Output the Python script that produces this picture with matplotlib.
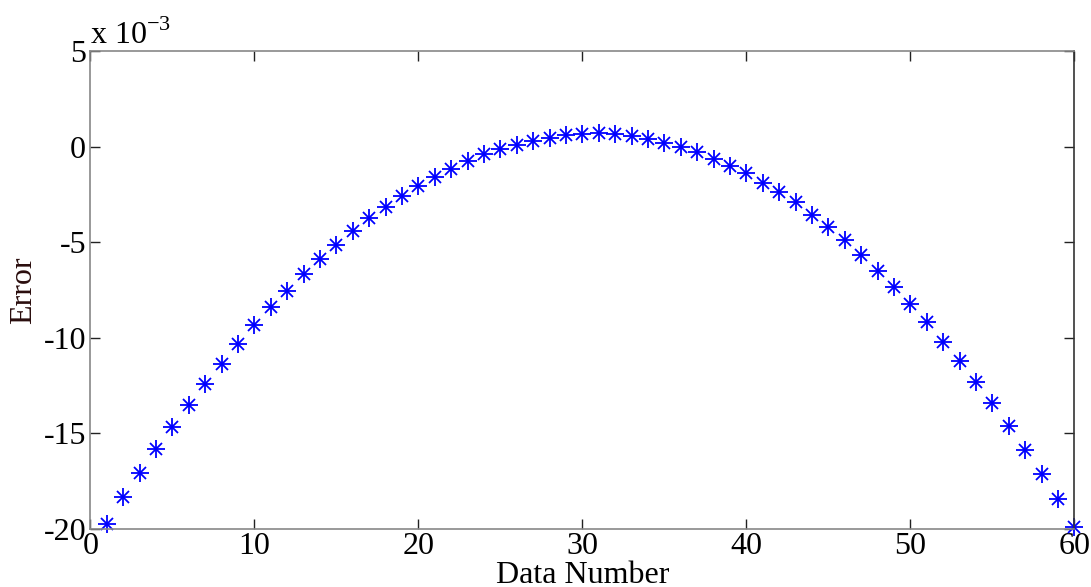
import numpy as np
import matplotlib
matplotlib.use("Agg")
import matplotlib.pyplot as plt

plt.rcParams['font.family'] = ['Liberation Serif', 'DejaVu Serif']
plt.rcParams['mathtext.fontset'] = 'custom'
plt.rcParams['mathtext.rm'] = 'Liberation Serif'
plt.rcParams['axes.unicode_minus'] = False

# data number and error (in units of 1e-3)
data_number = np.arange(1, 61)
error = [-19.72, -18.34, -17.05, -15.83, -14.65, -13.51, -12.42, -11.37, -10.34, -9.33,
         -8.39, -7.54, -6.66, -5.88, -5.13, -4.41, -3.75, -3.14, -2.58, -2.06,
         -1.61, -1.17, -0.75, -0.40, -0.14, 0.08, 0.29, 0.47, 0.61, 0.68,
         0.70, 0.64, 0.55, 0.40, 0.20, 0.00, -0.30, -0.64, -1.02, -1.40,
         -1.89, -2.39, -2.91, -3.58, -4.19, -4.88, -5.67, -6.49, -7.35, -8.24,
         -9.19, -10.20, -11.21, -12.30, -13.43, -14.61, -15.87, -17.14, -18.45, -19.91]

x_ticks = [0, 10, 20, 30, 40, 50, 60]
y_ticks = [-20, -15, -10, -5, 0, 5]

fs = 23

fig = plt.figure(figsize=(10.91, 5.87), dpi=100)
ax = fig.add_axes([0.0828, 0.0988, 0.9019, 0.8143])

# matlab style asterisk = plus + cross
ax.plot(data_number, error, linestyle='none', marker='+', markersize=13,
        markeredgewidth=1.3, color='#0000ff', clip_on=False)
ax.plot(data_number, error, linestyle='none', marker='x', markersize=9,
        markeredgewidth=1.3, color='#0000ff', clip_on=False)

ax.set_xlim(0, 60)
ax.set_ylim(-20, 5)
ax.set_xticks(x_ticks)
ax.set_yticks(y_ticks)
ax.tick_params(direction='in', length=7, width=1, top=True, right=True,
               labelsize=fs, colors='#222222', labelcolor='black')
ax.tick_params(axis='y', pad=3)
ax.tick_params(axis='x', pad=2)

for s in ['left', 'bottom', 'top']:
    ax.spines[s].set_color('#888888')
ax.spines['right'].set_color('#333333')
for s in ax.spines.values():
    s.set_linewidth(1.2)

ax.set_xlabel('Data Number', fontsize=fs, labelpad=0)
ax.set_ylabel('Error', fontsize=fs, color='#2a0d0d', labelpad=4)

ax.text(0.0, 1.0, r'x 10$^{\mathregular{-3}}$', transform=ax.transAxes,
        fontsize=fs, ha='left', va='bottom')

fig.savefig('out.png', dpi=100)
